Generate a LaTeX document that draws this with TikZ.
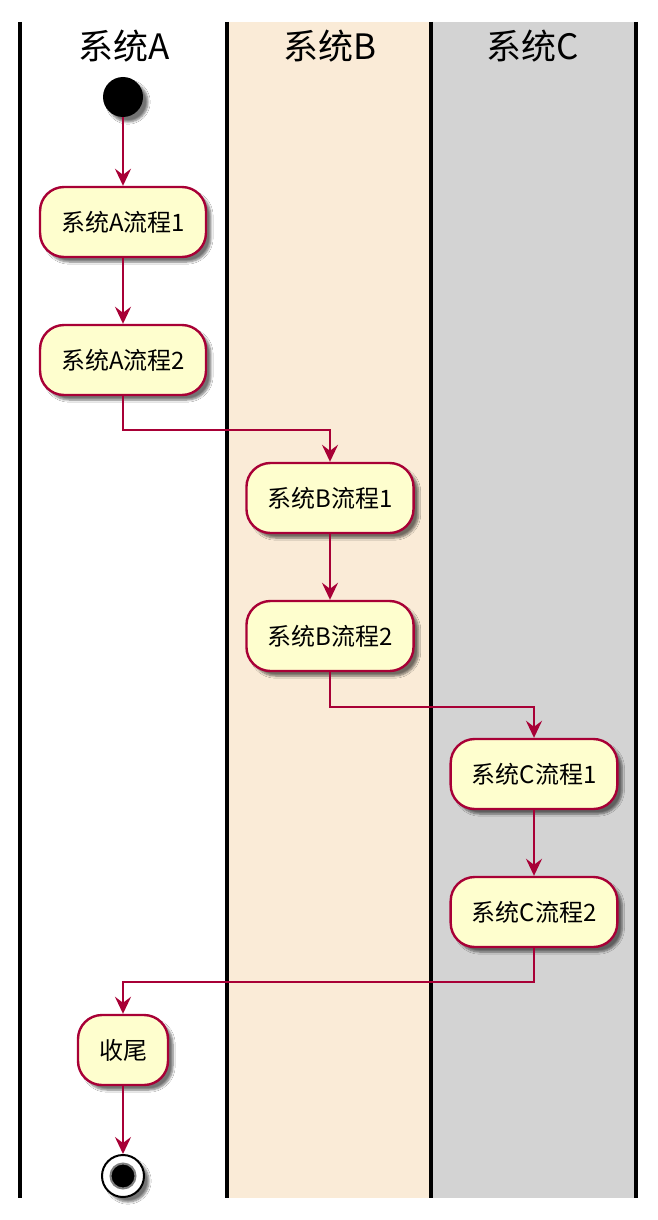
\documentclass[tikz,border=0pt]{standalone}
\usepackage{fontspec}
\setmainfont{Noto Sans CJK SC}
\usetikzlibrary{arrows.meta,shadows.blur}
\definecolor{puborder}{HTML}{A80036}
\definecolor{pufill}{HTML}{FEFECE}
\definecolor{laneB}{HTML}{FAEBD7}
\definecolor{laneC}{HTML}{D3D3D3}
\tikzset{
  act/.style={draw=puborder, fill=pufill, line width=2.4pt, rounded corners=24pt,
    minimum height=70pt, inner xsep=21pt, font=\fontsize{24pt}{28pt}\selectfont,
    blur shadow={shadow xshift=5pt, shadow yshift=-5pt, shadow blur steps=6, shadow opacity=55}},
  flow/.style={draw=puborder, line width=2.3pt, -{Stealth[length=17pt, width=16pt, inset=6pt]}},
  lane/.style={draw=black, line width=3.5pt},
  lanetitle/.style={font=\fontsize{35pt}{40pt}\selectfont},
  startdot/.style={circle, fill=black, minimum size=40pt, inner sep=0pt,
    blur shadow={shadow xshift=5pt, shadow yshift=-5pt, shadow blur steps=6, shadow opacity=55}},
}
\begin{document}
\begin{tikzpicture}[x=1pt, y=-1pt]
\useasboundingbox (0,0) rectangle (658,1220);
\fill[white] (0,0) rectangle (658,1220);
\fill[laneB] (227,22) rectangle (431,1198);
\fill[laneC] (431,22) rectangle (636,1198);
\draw[lane] (20,22) -- (20,1198);
\draw[lane] (227,22) -- (227,1198);
\draw[lane] (431,22) -- (431,1198);
\draw[lane] (636,22) -- (636,1198);
\node[lanetitle] (tA) at (124,46) {系统A};
\node[lanetitle] (tB) at (330,46) {系统B};
\node[lanetitle] (tC) at (533,46) {系统C};

\node[startdot] (start) at (123,97) {};
\node[act] (a1) at (123,222) {系统A流程1};
\node[act] (a2) at (123,360) {系统A流程2};
\node[act] (b1) at (330,498) {系统B流程1};
\node[act] (b2) at (330,636) {系统B流程2};
\node[act] (c1) at (534,774) {系统C流程1};
\node[act] (c2) at (534,912) {系统C流程2};
\node[act] (fin) at (123,1050) {收尾};
\node[circle, draw=black, line width=2pt, fill=white, minimum size=42pt, inner sep=0pt,
  blur shadow={shadow xshift=5pt, shadow yshift=-5pt, shadow blur steps=6, shadow opacity=55}] (stop) at (123,1176) {};
\node[circle, fill=black, draw=gray, line width=2pt, minimum size=25pt, inner sep=0pt] (stopin) at (stop.center) {};

\draw[flow] (start) -- (a1);
\draw[flow] (a1) -- (a2);
\draw[flow] (a2.south) -- ++(0,34) -| (b1.north);
\draw[flow] (b1) -- (b2);
\draw[flow] (b2.south) -- ++(0,35) -| (c1.north);
\draw[flow] (c1) -- (c2);
\draw[flow] (c2.south) -- ++(0,34) -| (fin.north);
\draw[flow] (fin) -- (stop);
\end{tikzpicture}
\end{document}
